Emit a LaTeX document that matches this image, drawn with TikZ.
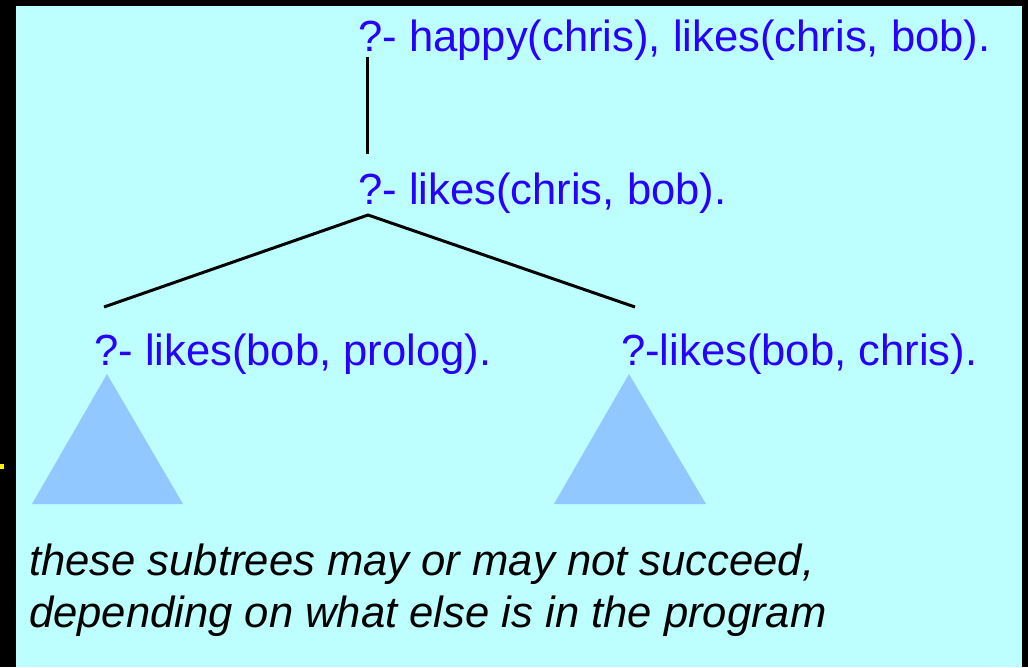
\documentclass[tikz,border=0pt]{standalone}
\usepackage{fontspec}
\setmainfont{Liberation Sans}
\usetikzlibrary{positioning}
\definecolor{bgcyan}{RGB}{189,255,255}
\definecolor{goalblue}{RGB}{40,0,255}
\definecolor{subblue}{RGB}{145,200,255}

\begin{document}
\begin{tikzpicture}[x=1pt, y=-1pt, font=\fontsize{43.6}{52}\selectfont]%

            \tikzstyle{goal} = [ text = goalblue, anchor = base west, inner sep = 0pt]
            \tikzstyle{note} = [ text = black, anchor = base west, inner sep = 0pt, align = left, font = \fontsize{43.6}{52}\selectfont\itshape]
            \tikzstyle{arc} = [ line width = 3pt, draw = black]
            \tikzstyle{sub} = [ fill = subblue, draw = none]
        %
            %% Frame
            \fill[black] (0,0) rectangle (1028,667);
            \fill[bgcyan] (16,6) rectangle (1022,667);
            \fill[yellow] (0,464) rectangle (4,469);

            %% Goals
            \node [goal] (g_0) at (358,51) {?- happy(chris), likes(chris, bob).};
            \node [goal, below = 153pt of g_0.base west, anchor = base west] (g_1) {?- likes(chris, bob).};
            \node [goal] (g_2) at (94,365) {?- likes(bob, prolog).};
            \node [goal, right = 527pt of g_2.base west, anchor = base west] (g_3) {?-likes(bob, chris).};

            \draw[arc] ([xshift=9pt, yshift=-6pt]g_0.base west) -- ([xshift=9pt, yshift=50pt]g_1.base west);
            \draw[arc] ([xshift=10pt, yshift=58pt]g_2.base west) -- ([xshift=10pt, yshift=-11pt]g_1.base west) -- ([xshift=14pt, yshift=58pt]g_3.base west);

            %% Subtrees
            \fill[sub] (107,374) -- (183,504) -- (32,504) -- cycle;
            \fill[sub] (629,374) -- (706,504) -- (554,504) -- cycle;

            \node [note] (n_0) at (29,627) {these subtrees may or may not succeed,\\depending on what else is in the program};
        \end{tikzpicture}
\end{document}
